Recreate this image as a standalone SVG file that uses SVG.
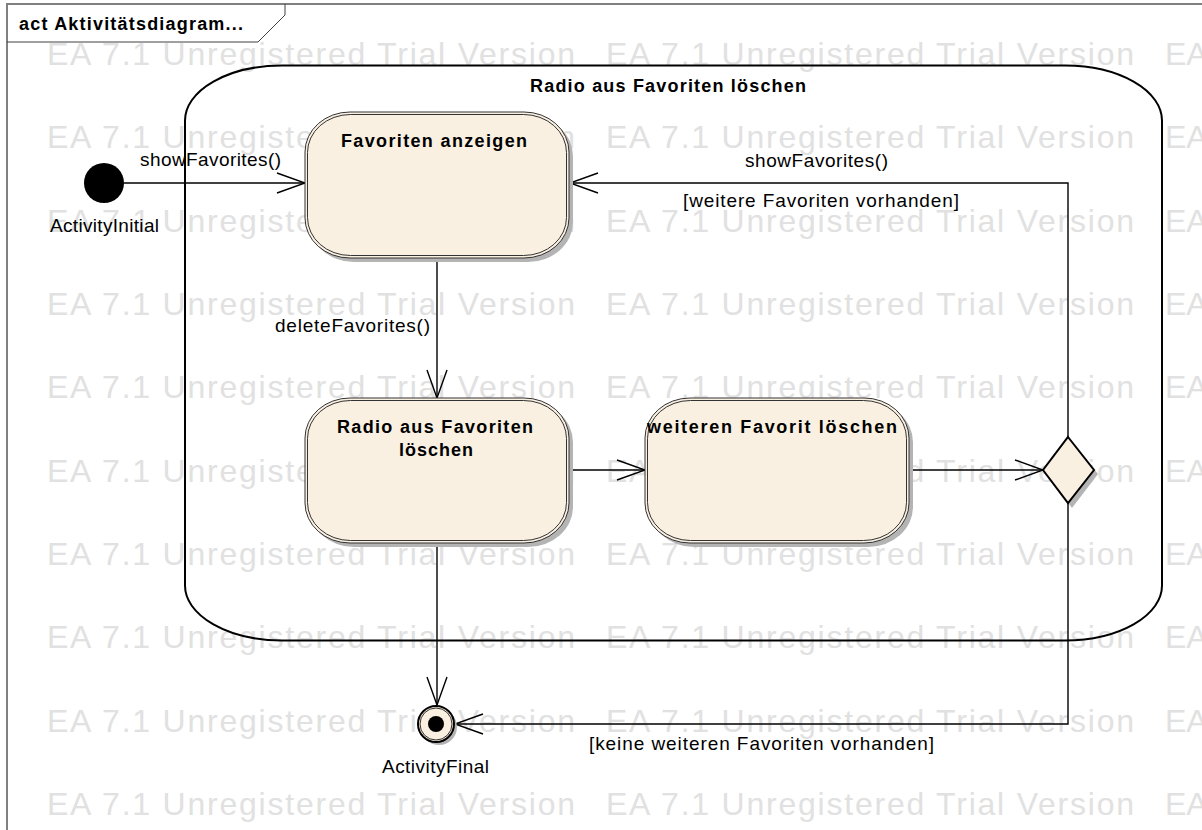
<svg xmlns="http://www.w3.org/2000/svg" width="1202" height="830" viewBox="0 0 1202 830">
<defs>
<style>
.wm{font-family:"Liberation Sans",Arial,sans-serif;font-size:32px;fill:#E1E1E1}
.lbl{font-family:"Liberation Sans",Arial,sans-serif;font-size:19px;fill:#000}
.ttl{font-family:"Liberation Sans",Arial,sans-serif;font-size:18px;font-weight:bold;fill:#000}
.node{fill:#FAF0E2;stroke:#333;stroke-width:1}
.inner{fill:none;stroke:#333;stroke-width:1}
.shadow{fill:#B4B4B4}
.conn{fill:none;stroke:#000;stroke-width:1.4}
</style>
<marker id="arr" viewBox="-30 -12 32 24" refX="0" refY="0" markerWidth="32" markerHeight="24" orient="auto" markerUnits="userSpaceOnUse">
<path d="M-28,-10 L0,0 L-28,10" fill="none" stroke="#000" stroke-width="1.4"/>
</marker>
</defs>
<rect width="1202" height="830" fill="#fff"/>
<g id="watermark">
<text class="wm" x="47" y="65" textLength="528">EA 7.1 Unregistered Trial Version</text><text class="wm" x="606" y="65" textLength="528">EA 7.1 Unregistered Trial Version</text><text class="wm" x="1165" y="65">EA</text>
<text class="wm" x="47" y="148" textLength="528">EA 7.1 Unregistered Trial Version</text><text class="wm" x="606" y="148" textLength="528">EA 7.1 Unregistered Trial Version</text><text class="wm" x="1165" y="148">EA</text>
<text class="wm" x="47" y="232" textLength="528">EA 7.1 Unregistered Trial Version</text><text class="wm" x="606" y="232" textLength="528">EA 7.1 Unregistered Trial Version</text><text class="wm" x="1165" y="232">EA</text>
<text class="wm" x="47" y="315" textLength="528">EA 7.1 Unregistered Trial Version</text><text class="wm" x="606" y="315" textLength="528">EA 7.1 Unregistered Trial Version</text><text class="wm" x="1165" y="315">EA</text>
<text class="wm" x="47" y="398" textLength="528">EA 7.1 Unregistered Trial Version</text><text class="wm" x="606" y="398" textLength="528">EA 7.1 Unregistered Trial Version</text><text class="wm" x="1165" y="398">EA</text>
<text class="wm" x="47" y="482" textLength="528">EA 7.1 Unregistered Trial Version</text><text class="wm" x="606" y="482" textLength="528">EA 7.1 Unregistered Trial Version</text><text class="wm" x="1165" y="482">EA</text>
<text class="wm" x="47" y="565" textLength="528">EA 7.1 Unregistered Trial Version</text><text class="wm" x="606" y="565" textLength="528">EA 7.1 Unregistered Trial Version</text><text class="wm" x="1165" y="565">EA</text>
<text class="wm" x="47" y="648" textLength="528">EA 7.1 Unregistered Trial Version</text><text class="wm" x="606" y="648" textLength="528">EA 7.1 Unregistered Trial Version</text><text class="wm" x="1165" y="648">EA</text>
<text class="wm" x="47" y="732" textLength="528">EA 7.1 Unregistered Trial Version</text><text class="wm" x="606" y="732" textLength="528">EA 7.1 Unregistered Trial Version</text><text class="wm" x="1165" y="732">EA</text>
<text class="wm" x="47" y="815" textLength="528">EA 7.1 Unregistered Trial Version</text><text class="wm" x="606" y="815" textLength="528">EA 7.1 Unregistered Trial Version</text><text class="wm" x="1165" y="815">EA</text>
</g>
<g id="frame">
<path d="M7,830 V4 H1202" fill="none" stroke="#808080" stroke-width="2"/>
<path d="M7,42 H258 L285,15 V4" fill="none" stroke="#404040" stroke-width="1"/>
<text class="ttl" x="19" y="30" font-size="17" textLength="224">act Aktivitätsdiagram...</text>
</g>
<g id="container">
<rect x="185" y="65.5" width="977" height="575" rx="97" ry="55" fill="none" stroke="#000" stroke-width="2"/>
<text class="ttl" x="530" y="92" textLength="276">Radio aus Favoriten löschen</text>
</g>
<g id="connectors">
<path class="conn" d="M124,183 H305" marker-end="url(#arr)"/>
<path class="conn" d="M437,258 V398" marker-end="url(#arr)"/>
<path class="conn" d="M569,470 H645" marker-end="url(#arr)"/>
<path class="conn" d="M909,470 H1043" marker-end="url(#arr)"/>
<path class="conn" d="M1068,437 V183 H570" marker-end="url(#arr)"/>
<path class="conn" d="M437,543 V705" marker-end="url(#arr)"/>
<path class="conn" d="M1068,503 V724 H455" marker-end="url(#arr)"/>
<text class="lbl" x="140" y="166" textLength="141">showFavorites()</text>
<text class="lbl" x="275" y="332" textLength="155">deleteFavorites()</text>
<text class="lbl" x="745" y="167" textLength="143">showFavorites()</text>
<text class="lbl" x="683" y="207" textLength="276">[weitere Favoriten vorhanden]</text>
<text class="lbl" x="589" y="750" textLength="345">[keine weiteren Favoriten vorhanden]</text>
</g>
<g id="initial">
<circle cx="104" cy="183" r="20" fill="#000"/>
<text class="lbl" x="50" y="232" textLength="109">ActivityInitial</text>
</g>
<g id="favoriten-anzeigen">
<rect class="shadow" x="309" y="116" width="264" height="146" rx="45" ry="40"/>
<rect class="node" x="305" y="112" width="264" height="146" rx="45" ry="40"/>
<rect class="inner" x="307.5" y="114.5" width="259" height="141" rx="43" ry="38"/>
<text class="ttl" x="341" y="147" textLength="186">Favoriten anzeigen</text>
</g>
<g id="radio-loeschen">
<rect class="shadow" x="309" y="402" width="264" height="145" rx="45" ry="40"/>
<rect class="node" x="305" y="398" width="264" height="145" rx="45" ry="40"/>
<rect class="inner" x="307.5" y="400.5" width="259" height="140" rx="43" ry="38"/>
<text class="ttl" x="337" y="433" textLength="196">Radio aus Favoriten</text>
<text class="ttl" x="399" y="456" textLength="74">löschen</text>
</g>
<g id="weiteren-favorit">
<rect class="shadow" x="649" y="402" width="264" height="145" rx="45" ry="40"/>
<rect class="node" x="645" y="398" width="264" height="145" rx="45" ry="40"/>
<rect class="inner" x="647.5" y="400.5" width="259" height="140" rx="43" ry="38"/>
<text class="ttl" x="647" y="433" textLength="250">weiteren Favorit löschen</text>
</g>
<g id="decision">
<polygon class="shadow" points="1072,442 1098,474 1072,508 1047,474"/>
<polygon points="1068,437 1094,470 1068,503 1043,470" fill="#FAF0E2" stroke="#000" stroke-width="2"/>
</g>
<g id="final">
<circle cx="439" cy="727" r="18" fill="#B4B4B4"/>
<circle cx="436" cy="724" r="18" fill="#FAF0E2" stroke="#000" stroke-width="2"/>
<circle cx="436" cy="724" r="16" fill="none" stroke="#000" stroke-width="0.8"/>
<circle cx="436" cy="724" r="8" fill="#000"/>
<text class="lbl" x="382" y="773" textLength="107">ActivityFinal</text>
</g>
</svg>
